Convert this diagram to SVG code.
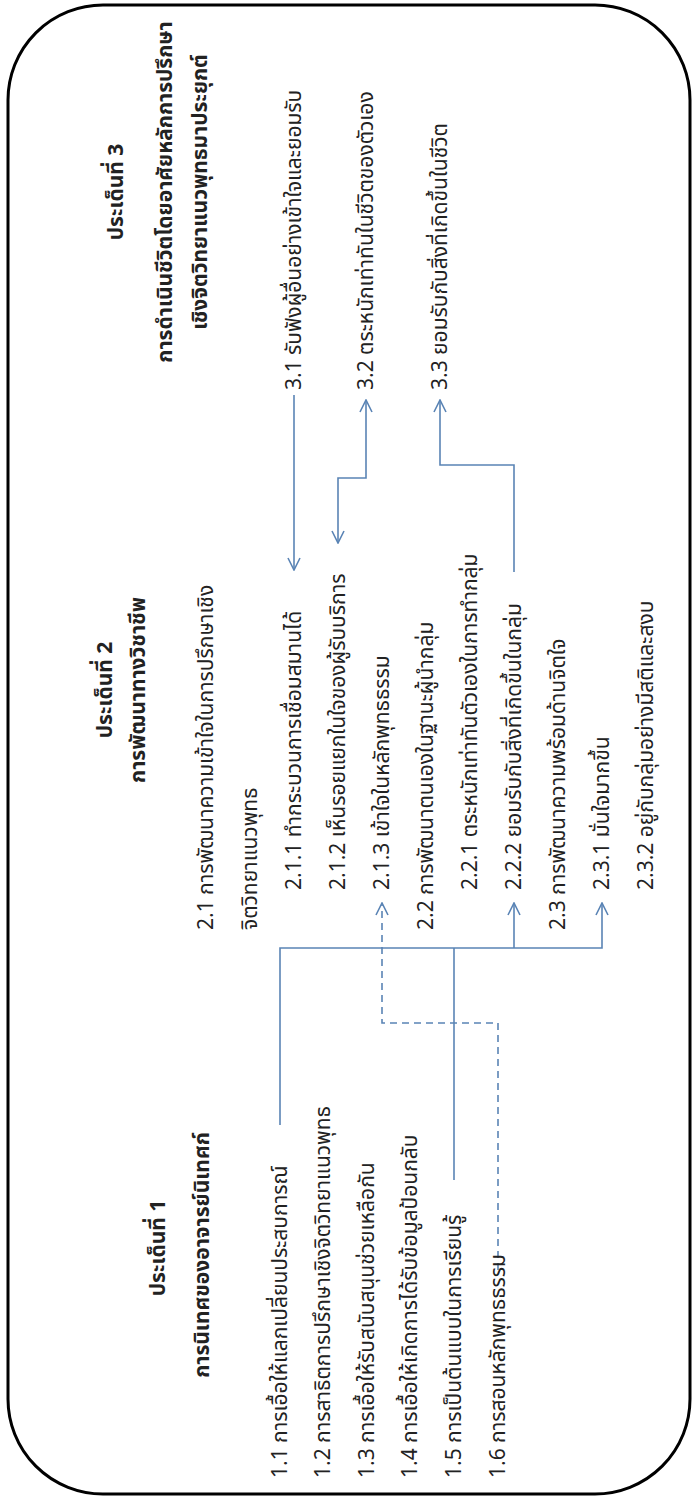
<svg xmlns="http://www.w3.org/2000/svg" width="700" height="1499" viewBox="0 0 700 1499">
<defs>
<style>
.t{font-family:"Tahoma","Noto Sans Thai","Noto Sans","DejaVu Sans",sans-serif;font-size:21px;fill:#222;dominant-baseline:central}
.h{font-weight:bold;text-anchor:middle;font-size:21px}
.c{fill:none;stroke:#5a84b5;stroke-width:1.6}
.d{stroke-dasharray:7 5}
</style>
<marker id="ah" viewBox="0 0 14 14" refX="13" refY="7" markerWidth="14" markerHeight="14" markerUnits="userSpaceOnUse" orient="auto-start-reverse">
<path d="M1,1 L13,7 L1,13" fill="none" stroke="#5a84b5" stroke-width="1.6"/>
</marker>
</defs>
<rect x="8" y="5" width="682" height="1489" rx="95" ry="95" fill="#fff" stroke="#000" stroke-width="3"/>

<g id="connectors">
<path class="c" d="M294,395 V570" marker-end="url(#ah)"/>
<path class="c" d="M338,543 V478 H366 V400" marker-start="url(#ah)" marker-end="url(#ah)"/>
<path class="c" d="M514,572 V465 H440 V400" marker-end="url(#ah)"/>
<path class="c" d="M280,1125 V948 H602 V903" marker-end="url(#ah)"/>
<path class="c" d="M514,948 V903" marker-end="url(#ah)"/>
<path class="c" d="M454,1180 V948"/>
<path class="c d" d="M498,1270 V1023 H382 V903" marker-end="url(#ah)"/>
</g>

<g id="theme1-title">
<text class="t h" transform="translate(158,1248) rotate(-90)">ประเด็นที่ 1</text>
<text class="t h" transform="translate(202,1255) rotate(-90)">การนิเทศของอาจารย์นิเทศก์</text>
</g>
<g id="n1-1"><text class="t" transform="translate(280,1478) rotate(-90)">1.1  การเอื้อให้แลกเปลี่ยนประสบการณ์</text></g>
<g id="n1-2"><text class="t" transform="translate(323,1478) rotate(-90)">1.2  การสาธิตการปรึกษาเชิงจิตวิทยาแนวพุทธ</text></g>
<g id="n1-3"><text class="t" transform="translate(367,1478) rotate(-90)">1.3  การเอื้อให้รับสนับสนุนช่วยเหลือกัน</text></g>
<g id="n1-4"><text class="t" transform="translate(410,1478) rotate(-90)">1.4  การเอื้อให้เกิดการได้รับข้อมูลป้อนกลับ</text></g>
<g id="n1-5"><text class="t" transform="translate(454,1478) rotate(-90)">1.5  การเป็นต้นแบบในการเรียนรู้</text></g>
<g id="n1-6"><text class="t" transform="translate(498,1478) rotate(-90)">1.6  การสอนหลักพุทธธรรม</text></g>

<g id="theme2-title">
<text class="t h" transform="translate(105,690) rotate(-90)">ประเด็นที่ 2</text>
<text class="t h" transform="translate(138,690) rotate(-90)">การพัฒนาทางวิชาชีพ</text>
</g>
<g id="n2-1">
<text class="t" transform="translate(206,930) rotate(-90)">2.1 การพัฒนาความเข้าใจในการปรึกษาเชิง</text>
<text class="t" transform="translate(250,930) rotate(-90)">จิตวิทยาแนวพุทธ</text>
</g>
<g id="n2-1-1"><text class="t" transform="translate(294,890) rotate(-90)">2.1.1 ทำกระบวนการเชื่อมสมานได้</text></g>
<g id="n2-1-2"><text class="t" transform="translate(338,890) rotate(-90)">2.1.2 เห็นรอยแยกในใจของผู้รับบริการ</text></g>
<g id="n2-1-3"><text class="t" transform="translate(382,890) rotate(-90)">2.1.3 เข้าใจในหลักพุทธธรรม</text></g>
<g id="n2-2"><text class="t" transform="translate(426,930) rotate(-90)">2.2 การพัฒนาตนเองในฐานะผู้นำกลุ่ม</text></g>
<g id="n2-2-1"><text class="t" transform="translate(470,890) rotate(-90)">2.2.1 ตระหนักเท่าทันตัวเองในการทำกลุ่ม</text></g>
<g id="n2-2-2"><text class="t" transform="translate(514,890) rotate(-90)">2.2.2 ยอมรับกับสิ่งที่เกิดขึ้นในกลุ่ม</text></g>
<g id="n2-3"><text class="t" transform="translate(558,930) rotate(-90)">2.3 การพัฒนาความพร้อมด้านจิตใจ</text></g>
<g id="n2-3-1"><text class="t" transform="translate(602,890) rotate(-90)">2.3.1 มั่นใจมากขึ้น</text></g>
<g id="n2-3-2"><text class="t" transform="translate(646,890) rotate(-90)">2.3.2 อยู่กับกลุ่มอย่างมีสติและสงบ</text></g>

<g id="theme3-title">
<text class="t h" transform="translate(116,192) rotate(-90)">ประเด็นที่ 3</text>
<text class="t h" transform="translate(165,192) rotate(-90)">การดำเนินชีวิตโดยอาศัยหลักการปรึกษา</text>
<text class="t h" transform="translate(200,192) rotate(-90)">เชิงจิตวิทยาแนวพุทธมาประยุกต์</text>
</g>
<g id="n3-1"><text class="t" transform="translate(294,390) rotate(-90)">3.1 รับฟังผู้อื่นอย่างเข้าใจและยอมรับ</text></g>
<g id="n3-2"><text class="t" transform="translate(366,390) rotate(-90)">3.2 ตระหนักเท่าทันในชีวิตของตัวเอง</text></g>
<g id="n3-3"><text class="t" transform="translate(440,390) rotate(-90)">3.3 ยอมรับกับสิ่งที่เกิดขึ้นในชีวิต</text></g>
</svg>
